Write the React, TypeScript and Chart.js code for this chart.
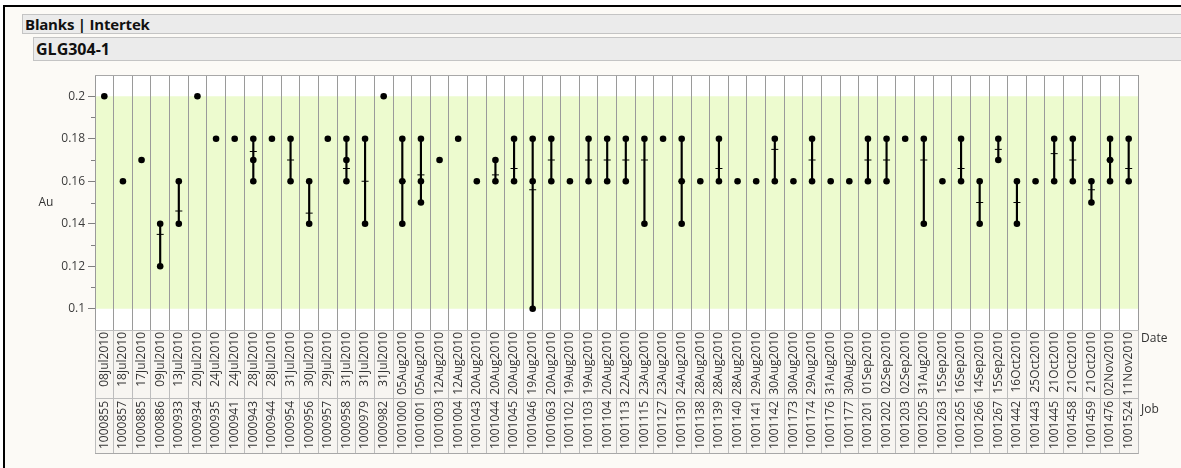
import React, { useEffect, useRef } from "react";
import { Chart, registerables } from "chart.js";

Chart.register(...registerables);

const FONT = '"Open Sans", "Noto Sans", sans-serif';

const panelTitle = "Blanks | Intertek";
const groupTitle = "GLG304-1";
const yTitle = "Au";
const dateTitle = "Date";
const jobTitle = "Job";

const jobs = [
  "1000855", "1000857", "1000885", "1000886", "1000933", "1000934", "1000935", "1000941",
  "1000943", "1000944", "1000954", "1000956", "1000957", "1000958", "1000979", "1000982",
  "1001000", "1001001", "1001003", "1001004", "1001043", "1001044", "1001045", "1001046",
  "1001063", "1001102", "1001103", "1001104", "1001113", "1001115", "1001127", "1001130",
  "1001138", "1001139", "1001140", "1001141", "1001142", "1001173", "1001174", "1001176",
  "1001177", "1001201", "1001202", "1001203", "1001205", "1001263", "1001265", "1001266",
  "1001267", "1001442", "1001443", "1001445", "1001458", "1001459", "1001476", "1001524",
];

const dates = [
  "08Jul2010", "18Jul2010", "17Jul2010", "09Jul2010", "13Jul2010", "20Jul2010", "24Jul2010", "24Jul2010",
  "28Jul2010", "28Jul2010", "31Jul2010", "30Jul2010", "29Jul2010", "31Jul2010", "31Jul2010", "31Jul2010",
  "05Aug2010", "05Aug2010", "12Aug2010", "12Aug2010", "20Aug2010", "20Aug2010", "20Aug2010", "19Aug2010",
  "20Aug2010", "19Aug2010", "19Aug2010", "20Aug2010", "22Aug2010", "23Aug2010", "23Aug2010", "24Aug2010",
  "28Aug2010", "28Aug2010", "28Aug2010", "29Aug2010", "30Aug2010", "30Aug2010", "29Aug2010", "31Aug2010",
  "30Aug2010", "01Sep2010", "02Sep2010", "02Sep2010", "31Aug2010", "15Sep2010", "16Sep2010", "14Sep2010",
  "15Sep2010", "16Oct2010", "25Oct2010", "21Oct2010", "21Oct2010", "21Oct2010", "02Nov2010", "11Nov2010",
];

// observed Au values per job
const values: number[][] = [
  [0.2], [0.16], [0.17], [0.14, 0.12], [0.16, 0.14], [0.2], [0.18], [0.18],
  [0.18, 0.17, 0.16], [0.18], [0.18, 0.16], [0.16, 0.14], [0.18], [0.18, 0.17, 0.16], [0.18, 0.14], [0.2],
  [0.18, 0.16, 0.14], [0.18, 0.16, 0.15], [0.17], [0.18], [0.16], [0.17, 0.16], [0.18, 0.16], [0.18, 0.16, 0.1],
  [0.18, 0.16], [0.16], [0.18, 0.16], [0.18, 0.16], [0.18, 0.16], [0.18, 0.14], [0.18], [0.18, 0.16, 0.14],
  [0.16], [0.18, 0.16], [0.16], [0.16], [0.18, 0.16], [0.16], [0.18, 0.16], [0.16],
  [0.16], [0.18, 0.16], [0.18, 0.16], [0.18], [0.18, 0.14], [0.16], [0.18, 0.16], [0.16, 0.14],
  [0.18, 0.17], [0.16, 0.14], [0.16], [0.18, 0.16], [0.18, 0.16], [0.16, 0.15], [0.18, 0.17, 0.16], [0.18, 0.16],
];

// mean markers per job (null where only one value)
const means: (number | null)[] = [
  null, null, null, 0.135, 0.146, null, null, null,
  0.174, null, 0.17, 0.145, null, 0.166, 0.16, null,
  0.16, 0.163, null, null, null, 0.163, 0.166, 0.156,
  0.17, null, 0.17, 0.17, 0.17, 0.17, null, 0.16,
  null, 0.166, null, null, 0.175, null, 0.17, null,
  null, 0.17, 0.17, null, 0.17, null, 0.166, 0.15,
  0.175, 0.15, null, 0.173, 0.17, 0.156, 0.17, 0.166,
];

const yTicks = [0.1, 0.12, 0.14, 0.16, 0.18, 0.2];
const yMinorTicks = [0.11, 0.13, 0.15, 0.17, 0.19];
const yMin = 0.09;
const yMax = 0.21;
const bandLow = 0.1;
const bandHigh = 0.2;

const GREEN = "#edfbcf";
const PANEL = "#fcfaf6";

const decor = {
  id: "decor",
  beforeDraw(chart: any) {
    const { ctx, chartArea: a, scales } = chart;
    const y = scales.y;
    const d = scales.date;
    const j = scales.x;
    ctx.save();
    ctx.fillStyle = "#ffffff";
    ctx.fillRect(a.left, a.top, a.right - a.left, a.bottom - a.top);
    const yt = y.getPixelForValue(bandHigh);
    const yb = y.getPixelForValue(bandLow);
    ctx.fillStyle = GREEN;
    ctx.fillRect(a.left, yt, a.right - a.left, yb - yt);
    ctx.fillStyle = "#f7f5f1";
    ctx.fillRect(a.left, d.top, a.right - a.left, j.bottom - d.top);
    ctx.restore();
  },
  afterDraw(chart: any) {
    const { ctx, chartArea: a, scales } = chart;
    const y = scales.y;
    const d = scales.date;
    const j = scales.x;
    ctx.save();
    ctx.lineWidth = 1;
    ctx.strokeStyle = "#a8a8a8";
    ctx.beginPath();
    ctx.moveTo(a.left, Math.round(a.top) + 0.5);
    ctx.lineTo(a.right, Math.round(a.top) + 0.5);
    ctx.moveTo(a.left, Math.round(j.bottom) - 0.5);
    ctx.lineTo(a.right + 0.5, Math.round(j.bottom) - 0.5);
    ctx.stroke();
    ctx.strokeStyle = "#808080";
    ctx.beginPath();
    yMinorTicks.forEach((v) => {
      const py = Math.round(y.getPixelForValue(v)) + 0.5;
      ctx.moveTo(a.left - 4, py);
      ctx.lineTo(a.left, py);
    });
    ctx.stroke();
    ctx.fillStyle = "#333";
    ctx.font = `12px ${FONT}`;
    ctx.textBaseline = "middle";
    ctx.textAlign = "center";
    ctx.fillText(yTitle, 46, (a.top + a.bottom) / 2);
    ctx.textAlign = "left";
    ctx.fillText(dateTitle, a.right + 3, d.top + 9);
    ctx.fillText(jobTitle, a.right + 3, j.top + 12);
    ctx.restore();
  },
};

export default function App() {
  const ref = useRef<HTMLCanvasElement>(null);

  useEffect(() => {
    const ranges = values.map((vs) =>
      vs.length > 1 ? [Math.min(...vs), Math.max(...vs)] : null
    );
    const points = values.flatMap((vs, i) => vs.map((v) => ({ x: jobs[i], y: v })));
    const meanPts = means
      .map((m, i) => (m === null ? null : { x: jobs[i], y: m }))
      .filter((p) => p !== null);

    const chart = new Chart(ref.current as HTMLCanvasElement, {
      type: "bar",
      data: {
        labels: jobs,
        datasets: [
          {
            type: "bar",
            data: ranges as any,
            backgroundColor: "#000",
            borderWidth: 0,
            barThickness: 1.5,
            order: 3,
          } as any,
          {
            type: "line",
            data: meanPts as any,
            showLine: false,
            pointStyle: "line",
            pointRadius: 3.5,
            pointBorderColor: "#000",
            pointBorderWidth: 1,
            order: 2,
          } as any,
          {
            type: "line",
            data: points as any,
            showLine: false,
            pointStyle: "circle",
            pointRadius: 3.3,
            pointBackgroundColor: "#000",
            pointBorderColor: "#000",
            pointBorderWidth: 0,
            order: 1,
          } as any,
        ],
      },
      options: {
        animation: false,
        responsive: false,
        devicePixelRatio: 1,
        events: [],
        layout: { padding: { left: 0, right: 43, top: 13, bottom: 14 } },
        plugins: { legend: { display: false }, tooltip: { enabled: false } },
        scales: {
          x: {
            type: "category",
            labels: jobs,
            position: "bottom",
            weight: 1,
            offset: true,
            grid: {
              offset: true,
              drawOnChartArea: false,
              drawTicks: true,
              tickLength: 56,
              tickColor: "#bdbdbd",
              color: "#bdbdbd",
            },
            border: { display: true, color: "#bdbdbd" },
            ticks: {
              autoSkip: false,
              minRotation: 90,
              maxRotation: 90,
              padding: -53,
              color: "#333",
              font: { family: FONT, size: 12 },
            },
            afterFit: (s: any) => {
              s.height = 56;
            },
          },
          date: {
            type: "category",
            labels: dates,
            position: "bottom",
            weight: 0,
            offset: true,
            grid: {
              offset: true,
              drawOnChartArea: true,
              drawTicks: true,
              tickLength: 68,
              color: "#9a9a9a",
              tickColor: "#bdbdbd",
            },
            border: { display: true, color: "#bdbdbd" },
            ticks: {
              autoSkip: false,
              minRotation: 90,
              maxRotation: 90,
              padding: -66,
              color: "#333",
              font: { family: FONT, size: 12 },
            },
            afterFit: (s: any) => {
              s.height = 68;
            },
          },
          y: {
            type: "linear",
            position: "left",
            min: yMin,
            max: yMax,
            afterBuildTicks: (s: any) => {
              s.ticks = yTicks.map((v) => ({ value: v }));
            },
            grid: {
              drawOnChartArea: false,
              drawTicks: true,
              tickLength: 7,
              tickColor: "#808080",
            },
            border: { display: false },
            ticks: {
              padding: 3,
              color: "#3c3c3c",
              font: { family: FONT, size: 12 },
              callback: (v: any) => String(+Number(v).toFixed(3)),
            },
            afterFit: (s: any) => {
              s.width = 95;
            },
          },
        },
      } as any,
      plugins: [decor],
    });
    return () => chart.destroy();
  }, []);

  return (
    <div
      style={{
        position: "absolute",
        left: 0,
        top: 0,
        width: 1181,
        height: 468,
        background: "#fff",
        overflow: "hidden",
        fontFamily: FONT,
      }}
    >
      <div
        style={{
          position: "absolute",
          left: 3,
          top: 5,
          width: 1181,
          height: 470,
          background: PANEL,
          borderLeft: "2px solid #000",
          borderTop: "2px solid #000",
        }}
      />
      <div
        style={{
          position: "absolute",
          left: 22,
          top: 14,
          width: 1170,
          height: 18,
          background: "#ebebeb",
          border: "1px solid #c4c4c4",
          display: "flex",
          alignItems: "center",
          paddingLeft: 2,
          fontWeight: 700,
          fontSize: 15,
          letterSpacing: -0.2,
          color: "#111",
          boxSizing: "content-box",
        }}
      >
        {panelTitle}
      </div>
      <div
        style={{
          position: "absolute",
          left: 33,
          top: 37,
          width: 1160,
          height: 22,
          background: "#ebebeb",
          border: "1px solid #c4c4c4",
          display: "flex",
          alignItems: "center",
          paddingLeft: 2,
          fontWeight: 700,
          fontSize: 16,
          color: "#111",
        }}
      >
        {groupTitle}
      </div>
      <canvas
        ref={ref}
        width={1181}
        height={406}
        style={{ position: "absolute", left: 0, top: 62, width: 1181, height: 406 }}
      />
    </div>
  );
}
